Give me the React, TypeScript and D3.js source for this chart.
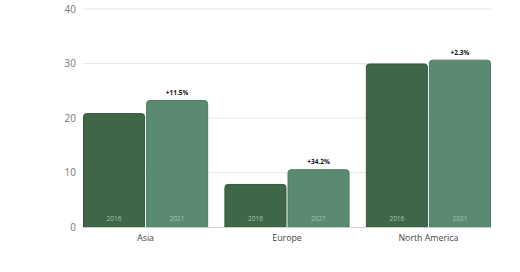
import React from "react";
import * as d3 from "d3";

const categories = ["Asia", "Europe", "North America"];
const years = ["2016", "2021"];
const values2016 = [20.9, 7.9, 30.0];
const values2021 = [23.3, 10.6, 30.7];
const changeLabels = ["+11.5%", "+34.2%", "+2.3%"];
const yTicks = [0, 10, 20, 30, 40];

const W = 520;
const H = 272;
const fills = ["#3e6647", "#5b8a72"];
const strokes = ["#35593d", "#4f7d65"];

export default function App() {
  const x = d3.scaleBand<string>().domain(categories).range([83, 491]).paddingInner(0.115).paddingOuter(0);
  const x1 = d3.scaleBand<string>().domain(years).range([0, x.bandwidth()]).paddingInner(0.016);
  const y = d3.scaleLinear().domain([0, 40]).range([227, 9]);
  const series = [values2016, values2021];
  const r = 3;

  const barPath = (x0: number, w: number, top: number, bottom: number) => {
    const rr = Math.min(r, (bottom - top) / 2);
    return `M${x0},${bottom} L${x0},${top + rr} Q${x0},${top} ${x0 + rr},${top} L${x0 + w - rr},${top} Q${x0 + w},${top} ${x0 + w},${top + rr} L${x0 + w},${bottom} Z`;
  };

  return (
    <svg width={W} height={H} style={{ position: "absolute", left: 0, top: 0, fontFamily: "'Open Sans', sans-serif" }}>
      <rect width={W} height={H} fill="#fff" />
      {yTicks.map((t) => (
        <g key={t}>
          {t !== 0 && (
            <line x1={83} x2={491} y1={y(t)} y2={y(t)} stroke="#e6e6e6" strokeWidth={1} />
          )}
          <text x={76} y={y(t)} dy="0.35em" textAnchor="end" fontSize={10} fill="#777">
            {t}
          </text>
        </g>
      ))}
      {categories.map((c, i) => (
        <g key={c}>
          {series.map((vals, s) => {
            const bx = (x(c) ?? 0) + (x1(years[s]) ?? 0);
            const bw = x1.bandwidth();
            const top = y(vals[i]);
            return (
              <g key={s}>
                <path d={barPath(bx + 0.5, bw - 1, top + 0.5, y(0))} fill={fills[s]} stroke={strokes[s]} strokeWidth={1} />
                <text x={bx + bw / 2} y={221} textAnchor="middle" fontSize={6.5} fill="#a9c3b3">
                  {years[s]}
                </text>
                {s === 1 && (
                  <text x={bx + bw / 2} y={top - 5} textAnchor="middle" fontSize={6.5} fontWeight="bold" fill="#111">
                    {changeLabels[i]}
                  </text>
                )}
              </g>
            );
          })}
          <text x={(x(c) ?? 0) + x.bandwidth() / 2} y={241} textAnchor="middle" fontSize={8.8} fill="#444">
            {c}
          </text>
        </g>
      ))}
      <line x1={83} x2={491} y1={y(0) + 0.5} y2={y(0) + 0.5} stroke="#cfcfcf" strokeWidth={1} />
    </svg>
  );
}
